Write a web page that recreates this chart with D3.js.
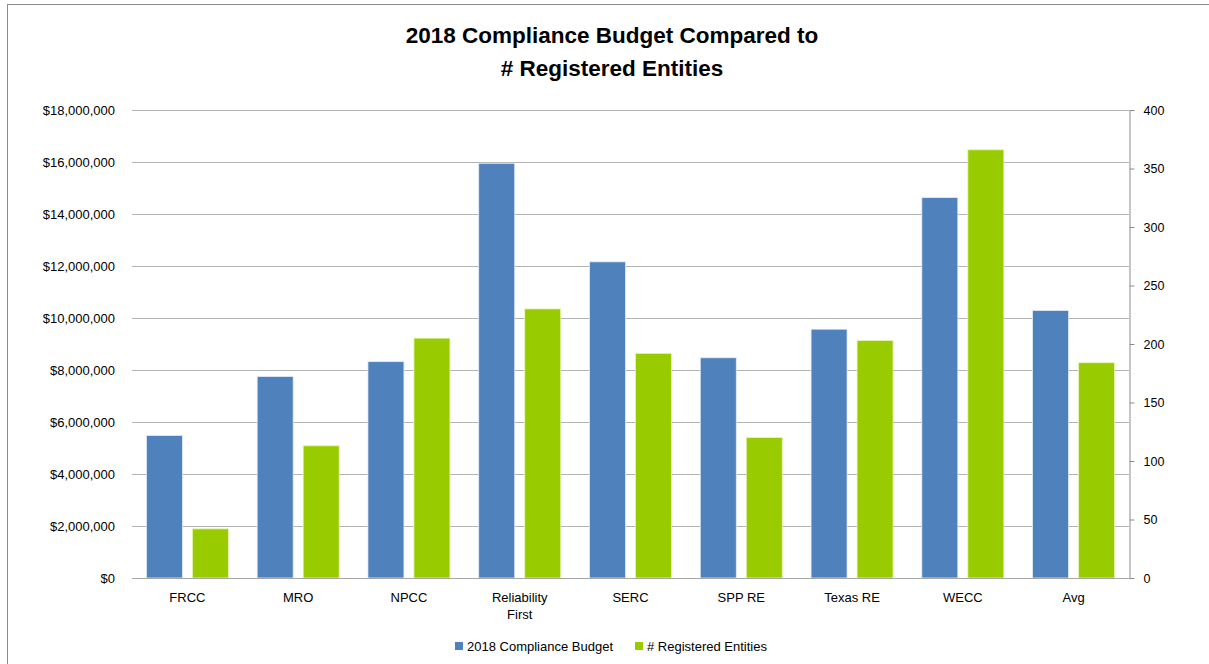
<!DOCTYPE html>
<html>
<head>
<meta charset="utf-8">
<script src="https://cdn.jsdelivr.net/npm/d3@7"></script>
<style>
  body { margin: 0; background: #fff; }
  svg text { font-family: "Liberation Sans", Arial, sans-serif; fill: #000; }
</style>
</head>
<body>
<svg id="chart" width="1209" height="664"></svg>
<script>
// data
var categories = ["FRCC", "MRO", "NPCC", "Reliability First", "SERC", "SPP RE", "Texas RE", "WECC", "Avg"];
var budget = [5480000, 7750000, 8320000, 15950000, 12160000, 8470000, 9570000, 14630000, 10290000];
var entities = [42, 113, 205, 230, 192, 120, 203, 366, 184];
var seriesNames = ["2018 Compliance Budget", "# Registered Entities"];
var leftTicks = [0, 2000000, 4000000, 6000000, 8000000, 10000000, 12000000, 14000000, 16000000, 18000000];
var rightTicks = [0, 50, 100, 150, 200, 250, 300, 350, 400];

var colors = ["#4F81BD", "#99CC00"];

var svg = d3.select("#chart");
// note: "top" is a reserved window property, so plot edges get their own names
var plotLeft = 132, plotRight = 1129, plotTop = 110, plotBottom = 578;

// outer frame
svg.append("rect")
    .attr("x", 7.5).attr("y", 4.5)
    .attr("width", 1209).attr("height", 664)
    .attr("fill", "none").attr("stroke", "#8c8c8c").attr("stroke-width", 1);

// title
svg.append("text").attr("x", 612).attr("y", 43).attr("text-anchor", "middle")
    .style("font-size", "22.5px").style("font-weight", "bold")
    .text("2018 Compliance Budget Compared to");
svg.append("text").attr("x", 612).attr("y", 76).attr("text-anchor", "middle")
    .style("font-size", "22.5px").style("font-weight", "bold")
    .text("# Registered Entities");

var x = d3.scaleBand().domain(categories).range([plotLeft, plotRight]).paddingInner(0).paddingOuter(0);
var y = d3.scaleLinear().domain([0, 18000000]).range([plotBottom, plotTop]);
var y2 = d3.scaleLinear().domain([0, 400]).range([plotBottom, plotTop]);

var barW = 36, gap = 10;
var offset = (x.bandwidth() - (barW * 2 + gap)) / 2;

// gridlines
svg.append("g").selectAll("line").data(leftTicks.slice(1)).enter().append("line")
    .attr("x1", plotLeft).attr("x2", plotRight)
    .attr("y1", function(d) { return Math.round(y(d)) + 0.5; })
    .attr("y2", function(d) { return Math.round(y(d)) + 0.5; })
    .attr("stroke", "#b3b3b3").attr("stroke-width", 1.2);

// bars
var groups = svg.append("g").selectAll("g").data(categories).enter().append("g")
    .attr("transform", function(d) { return "translate(" + x(d) + ",0)"; });

groups.append("rect")
    .attr("x", offset)
    .attr("y", function(d, i) { return y(budget[i]); })
    .attr("width", barW)
    .attr("height", function(d, i) { return plotBottom - y(budget[i]); })
    .attr("fill", colors[0]).attr("stroke", "#e3ebf5").attr("stroke-width", 0.8);

groups.append("rect")
    .attr("x", offset + barW + gap)
    .attr("y", function(d, i) { return y2(entities[i]); })
    .attr("width", barW)
    .attr("height", function(d, i) { return plotBottom - y2(entities[i]); })
    .attr("fill", colors[1]).attr("stroke", "#e6f5b8").attr("stroke-width", 0.8);

// left axis (labels only)
var leftAxis = svg.append("g").attr("transform", "translate(" + (plotLeft - 17) + ",0)")
    .call(d3.axisLeft(y).tickValues(leftTicks).tickSize(0).tickPadding(0)
        .tickFormat(function(d) { return "$" + d3.format(",")(d); }));
leftAxis.select(".domain").remove();
leftAxis.selectAll("text").style("font-size", "13px").style("font-family", "'Liberation Sans', Arial, sans-serif");

// right axis
var rightAxis = svg.append("g").attr("transform", "translate(" + (plotRight + 0.5) + ",0)")
    .call(d3.axisRight(y2).tickValues(rightTicks).tickSize(5).tickSizeOuter(0).tickPadding(9));
rightAxis.select(".domain").attr("stroke", "#8c8c8c");
rightAxis.selectAll(".tick line").attr("stroke", "#8c8c8c");
rightAxis.selectAll("text").style("font-size", "12.5px").style("font-family", "'Liberation Sans', Arial, sans-serif");

// bottom axis line
svg.append("line").attr("x1", plotLeft).attr("x2", plotRight + 0.5)
    .attr("y1", plotBottom + 0.5).attr("y2", plotBottom + 0.5)
    .attr("stroke", "#a6a6a6").attr("stroke-width", 1.2);

// category labels
var catLabels = svg.append("g").selectAll("text").data(categories).enter().append("text")
    .attr("x", function(d) { return x(d) + x.bandwidth() / 2; })
    .attr("y", 602)
    .attr("text-anchor", "middle")
    .style("font-size", "13px");
catLabels.each(function(d) {
    var words = d === "Reliability First" ? ["Reliability", "First"] : [d];
    var t = d3.select(this);
    words.forEach(function(w, k) {
        t.append("tspan").attr("x", x(d) + x.bandwidth() / 2).attr("dy", k === 0 ? 0 : 17).text(w);
    });
});

// legend
var legendX = [455, 635];
var legend = svg.append("g").selectAll("g").data(seriesNames).enter().append("g")
    .attr("transform", function(d, i) { return "translate(" + legendX[i] + ",642)"; });
legend.append("rect").attr("x", 0).attr("y", 0).attr("width", 8).attr("height", 8)
    .attr("fill", function(d, i) { return colors[i]; });
legend.append("text").attr("x", 12).attr("y", 9).style("font-size", "13px")
    .text(function(d) { return d; });
</script>
</body>
</html>
